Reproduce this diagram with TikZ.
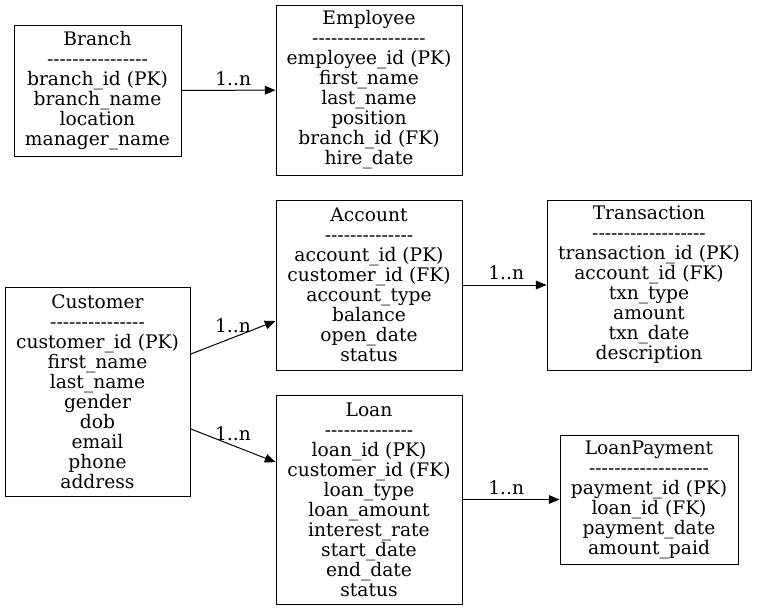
\documentclass[tikz,border=0pt]{standalone}
\usepackage{fontspec}
\setmainfont{DejaVu Serif}[Ligatures=TeXOff]
\usetikzlibrary{arrows.meta}

\begin{document}
\begin{tikzpicture}[x=0.75pt,y=-0.75pt,
		entity/.style={draw,line width=0.75pt,align=center,inner sep=0pt,font=\fontsize{14}{15}\selectfont},
		rel/.style={line width=0.75pt,-{Triangle[length=8pt,width=6.5pt]}},
		card/.style={above,font=\fontsize{14}{15}\selectfont}]
					\useasboundingbox (0,0) rectangle (757,611);
					\node[entity,minimum width=125.25pt,minimum height=98.25pt] (branch) at (97.5,90.5)
						{Branch\\----------------\\branch\_id (PK)\\branch\_name\\location\\manager\_name};
					\node[entity,minimum width=139.5pt,minimum height=127.5pt] (employee) at (369,90)
						{Employee\\------------------\\employee\_id (PK)\\first\_name\\last\_name\\position\\branch\_id (FK)\\hire\_date};
					\node[entity,minimum width=139.5pt,minimum height=127.5pt] (account) at (369,285)
						{Account\\--------------\\account\_id (PK)\\customer\_id (FK)\\account\_type\\balance\\open\_date\\status};
					\node[entity,minimum width=153pt,minimum height=127.5pt] (transaction) at (649,285)
						{Transaction\\------------------\\transaction\_id (PK)\\account\_id (FK)\\txn\_type\\amount\\txn\_date\\description};
					\node[entity,minimum width=138.75pt,minimum height=156.75pt] (customer) at (97.5,391.5)
						{Customer\\---------------\\customer\_id (PK)\\first\_name\\last\_name\\gender\\dob\\email\\phone\\address};
					\node[entity,minimum width=139.5pt,minimum height=156.75pt] (loan) at (369,499.5)
						{Loan\\--------------\\loan\_id (PK)\\customer\_id (FK)\\loan\_type\\loan\_amount\\interest\_rate\\start\_date\\end\_date\\status};
					\node[entity,minimum width=133.5pt,minimum height=96.75pt] (payment) at (649,499.5)
						{LoanPayment\\-------------------\\payment\_id (PK)\\loan\_id (FK)\\payment\_date\\amount\_paid};

					\draw[rel] (branch) -- (employee)node[card,pos=0.55]{1..n}; % one branch, many staff
					\draw[rel] (account) -- (transaction)node[card,pos=0.52]{1..n};
					\draw[rel] ([yshift=28pt]customer.east) -- ([yshift=-27pt]account.west)node[card,midway]{1..n};
					\draw[rel] ([yshift=-28pt]customer.east) -- ([yshift=28pt]loan.west)node[card,midway]{1..n};
					\draw[rel] (loan) -- (payment)node[card,pos=0.45]{1..n};
				\end{tikzpicture}
\end{document}
